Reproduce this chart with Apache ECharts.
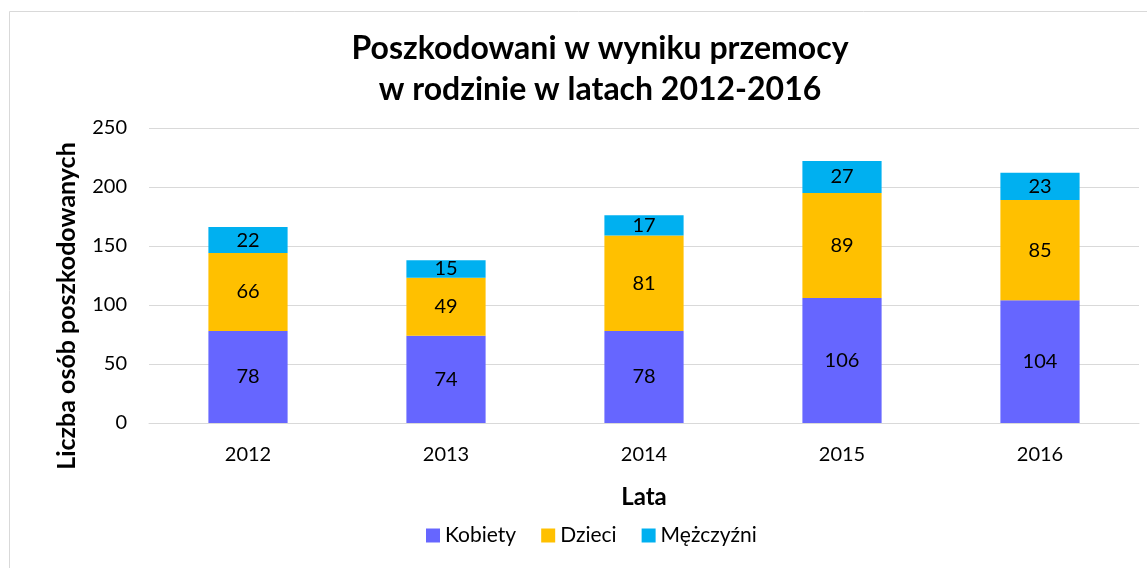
<!DOCTYPE html>
<html><head><meta charset="utf-8">
<script src="https://cdn.jsdelivr.net/npm/echarts@6/dist/echarts.min.js"></script>
<style>html,body{margin:0;padding:0;background:#fff}#c{width:1147px;height:568px}</style>
</head><body><div id="c"></div>
<script>
const categories = ['2012','2013','2014','2015','2016'];
const kobiety = [78, 74, 78, 106, 104];
const dzieci = [66, 49, 81, 89, 85];
const mezczyzni = [22, 15, 17, 27, 23];
const yTicks = [0, 50, 100, 150, 200, 250];

const FONT = 'Lato';
const chart = echarts.init(document.getElementById('c'), null, {renderer: 'canvas'});
const lbl = {show: true, position: 'inside', color: '#000', fontFamily: FONT, fontSize: 20};
chart.setOption({
  animation: false,
  textStyle: {fontFamily: FONT},
  title: {
    text: 'Poszkodowani w wyniku przemocy\nw rodzinie w latach 2012-2016',
    left: 595, top: 23, textAlign: 'center',
    textStyle: {fontFamily: FONT, fontWeight: 'bold', fontSize: 32, lineHeight: 41, color: '#000'}
  },
  legend: {
    bottom: 17, left: 421, itemWidth: 14, itemHeight: 14, itemGap: 25,
    icon: 'rect',
    textStyle: {fontFamily: FONT, fontSize: 21, color: '#000'},
    data: ['Kobiety', 'Dzieci', 'Mężczyźni']
  },
  grid: {left: 149, right: 8, top: 128, bottom: 145, containLabel: false},
  graphic: [
    {type: 'rect', shape: {x: 9.5, y: 11.5, width: 1150, height: 570}, style: {fill: 'none', stroke: '#D9D9D9', lineWidth: 1}, silent: true},
    {type: 'text', x: 67, y: 306, rotation: Math.PI / 2,
     style: {text: 'Liczba osób poszkodowanych', fontFamily: FONT, fontWeight: 'bold', fontSize: 25, fill: '#000', align: 'center', verticalAlign: 'middle'}}
  ],
  xAxis: {
    type: 'category', data: categories,
    name: 'Lata', nameLocation: 'middle', nameGap: 62,
    nameTextStyle: {fontFamily: FONT, fontWeight: 'bold', fontSize: 24, color: '#000'},
    axisLine: {lineStyle: {color: '#D9D9D9', width: 1}},
    axisTick: {show: false},
    axisLabel: {color: '#000', fontFamily: FONT, fontSize: 20, margin: 22}
  },
  yAxis: {
    type: 'value', min: 0, max: 250, interval: 50,
    axisLine: {show: false}, axisTick: {show: false},
    splitLine: {lineStyle: {color: '#D9D9D9', width: 1}},
    axisLabel: {color: '#000', fontFamily: FONT, fontSize: 20, margin: 22,
      formatter: v => yTicks.includes(v) ? String(v) : ''}
  },
  series: [
    {name: 'Kobiety', type: 'bar', stack: 't', data: kobiety, barWidth: '40%', itemStyle: {color: '#6666FF'}, label: lbl},
    {name: 'Dzieci', type: 'bar', stack: 't', data: dzieci, barWidth: '40%', itemStyle: {color: '#FFC000'}, label: lbl},
    {name: 'Mężczyźni', type: 'bar', stack: 't', data: mezczyzni, barWidth: '40%', itemStyle: {color: '#00B0F0'}, label: lbl}
  ]
});
</script></body></html>
